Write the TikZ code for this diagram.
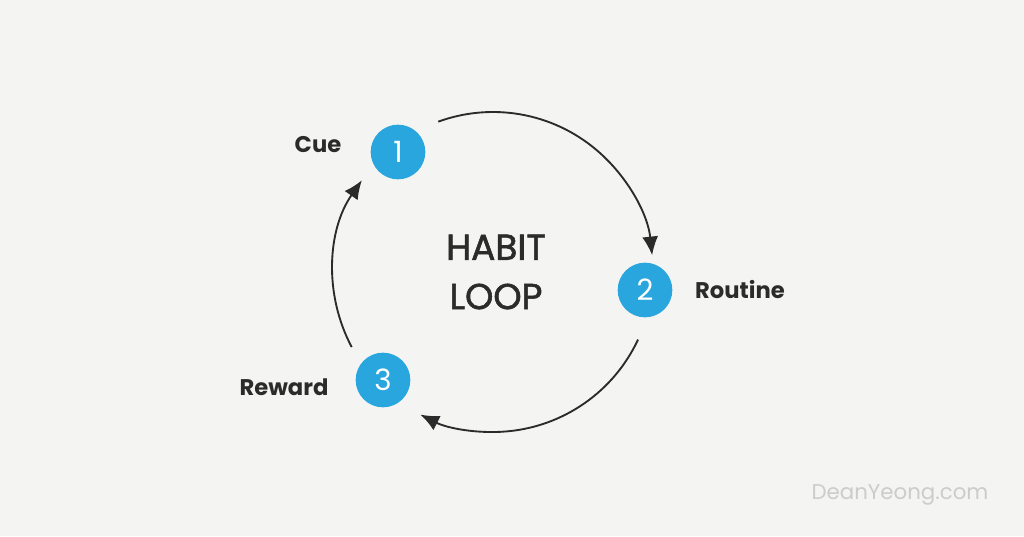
\documentclass[tikz,border=0pt]{standalone}
\usepackage{fontspec}
\setmainfont{Poppins}
\newfontfamily\titlefont[FakeBold=1.5]{Poppins}
\usetikzlibrary{arrows.meta,calc}
\definecolor{bgc}{HTML}{F4F4F2}
\definecolor{badgec}{HTML}{2AA6DF}
\definecolor{inkc}{HTML}{2B2B2B}

\begin{document}
\begin{tikzpicture}[x=0.75pt,y=0.75pt,
    badge/.style={circle,fill=badgec,text=white,minimum size=41pt,inner sep=0,font=\fontsize{22}{22}\selectfont},
    stage/.style={text=inkc,font=\fontsize{17}{17}\selectfont\bfseries},
    loop/.style={inkc,line width=1.4pt,-{Latex[length=14pt,width=12pt]}}]
  \fill[bgc] (0,0) rectangle (1024,536);
  \useasboundingbox (0,0) rectangle (1024,536);

  \coordinate (c) at (493,264);
  \node[badge] (one) at (398,384) {1};
  \node[badge] (two) at (645,246) {2};
  \node[badge] (three) at (383,156) {3};
  \node[stage] (cue) at (318,391) {Cue};
  \node[stage] (routine) at (740,246) {Routine};
  \node[stage] (reward) at (284,149) {Reward};
  \node[text=inkc,align=center,font=\titlefont\fontsize{27}{37}\selectfont] (title) at (496,264) {HABIT\\LOOP};
  \node[text=black!20,font=\fontsize{16}{16}\selectfont] (site) at (900,41) {DeanYeong.com};

  % the three arcs of the loop
  \draw[loop] ($(c)+(110:160)$) arc[start angle=110,end angle=6,radius=160];
  \draw[loop] ($(c)+(-25:160)$) arc[start angle=-25,end angle=-117,radius=160];
  \draw[loop] ($(c)+(208:160)$) arc[start angle=208,end angle=145,radius=160];
\end{tikzpicture}
\end{document}
